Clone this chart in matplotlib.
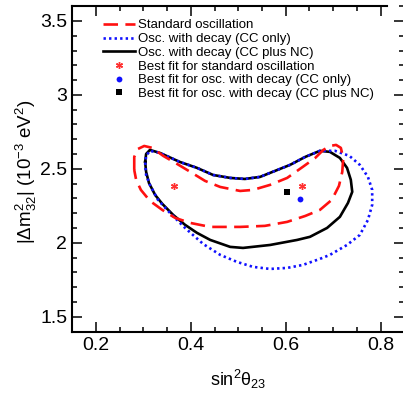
import numpy as np
import matplotlib
matplotlib.use("Agg")
from matplotlib import pyplot as plt
from matplotlib.lines import Line2D

plt.rcParams['font.family'] = ['Liberation Sans', 'DejaVu Sans']
plt.rcParams['mathtext.fontset'] = 'custom'
plt.rcParams['mathtext.rm'] = 'Liberation Sans'
plt.rcParams['mathtext.it'] = 'Liberation Sans:italic'
plt.rcParams['mathtext.default'] = 'regular'

# ---------- contours (sin^2 theta23, |dm^2_32| in 1e-3 eV^2) ----------
std_x = [0.281, 0.281, 0.289, 0.302, 0.319, 0.342, 0.371, 0.399, 0.430, 0.462, 0.504, 0.531,
         0.567, 0.603, 0.636, 0.662, 0.679, 0.693, 0.706, 0.716, 0.721, 0.719, 0.712, 0.697,
         0.672, 0.641, 0.603, 0.556, 0.504, 0.441, 0.399, 0.367, 0.340, 0.314, 0.295, 0.285]
std_y = [2.493, 2.581, 2.635, 2.655, 2.642, 2.588, 2.534, 2.480, 2.419, 2.378, 2.351, 2.358,
         2.392, 2.439, 2.514, 2.574, 2.628, 2.655, 2.662, 2.642, 2.574, 2.480, 2.385, 2.291,
         2.223, 2.182, 2.142, 2.115, 2.108, 2.108, 2.135, 2.169, 2.223, 2.284, 2.358, 2.426]

cc_x = [0.304, 0.306, 0.314, 0.335, 0.377, 0.413, 0.447, 0.483, 0.514, 0.546, 0.577, 0.609,
        0.641, 0.672, 0.704, 0.734, 0.756, 0.773, 0.782, 0.782, 0.773, 0.756, 0.729, 0.693,
        0.672, 0.636, 0.603, 0.567, 0.531, 0.497, 0.462, 0.426, 0.388, 0.356, 0.331, 0.314, 0.306]
cc_y = [2.527, 2.588, 2.622, 2.608, 2.547, 2.507, 2.459, 2.439, 2.432, 2.446, 2.486, 2.527,
        2.581, 2.622, 2.622, 2.588, 2.527, 2.446, 2.358, 2.257, 2.155, 2.054, 1.986, 1.919,
        1.892, 1.851, 1.831, 1.824, 1.838, 1.872, 1.919, 1.993, 2.101, 2.203, 2.291, 2.392, 2.459]

ccnc_x = [0.304, 0.306, 0.314, 0.335, 0.377, 0.413, 0.447, 0.483, 0.514, 0.546, 0.577, 0.609,
          0.641, 0.672, 0.693, 0.714, 0.729, 0.737, 0.740, 0.731, 0.714, 0.687, 0.651, 0.624,
          0.567, 0.510, 0.483, 0.441, 0.413, 0.388, 0.363, 0.340, 0.325, 0.312, 0.306]
ccnc_y = [2.547, 2.601, 2.628, 2.608, 2.547, 2.507, 2.459, 2.439, 2.432, 2.446, 2.486, 2.527,
          2.581, 2.622, 2.615, 2.574, 2.507, 2.426, 2.345, 2.270, 2.176, 2.101, 2.041, 2.020,
          1.986, 1.966, 1.973, 2.020, 2.068, 2.122, 2.189, 2.264, 2.324, 2.405, 2.480]

# best fit points
bf_std_x = [0.365, 0.634]
bf_std_y = [2.385, 2.385]
bf_cc_x = [0.630]
bf_cc_y = [2.297]
bf_ccnc_x = [0.603]
bf_ccnc_y = [2.345]

labels = ['Standard oscillation', 'Osc. with decay (CC only)', 'Osc. with decay (CC plus NC)',
          'Best fit for standard oscillation', 'Best fit for osc. with decay (CC only)',
          'Best fit for osc. with decay (CC plus NC)']


def closed(x, y):
    return list(x) + [x[0]], list(y) + [y[0]]


fig = plt.figure(figsize=(4.03, 3.99), dpi=100)
ax = fig.add_axes([0.1787, 0.1687, 0.825, 0.816])

lw = 1.9
x, y = closed(ccnc_x, ccnc_y)
ax.plot(x, y, color='black', lw=lw, solid_joinstyle='round')
x, y = closed(cc_x, cc_y)
ax.plot(x, y, color='#1010ff', lw=lw, linestyle=(0, (0.9, 1.2)), dash_capstyle='butt')
x, y = closed(std_x, std_y)
ax.plot(x, y, color='#ff1010', lw=lw, linestyle=(0, (5.5, 2.8)))

star = (6, 2, 0)
ax.plot(bf_std_x, bf_std_y, linestyle='none', marker=star, color='#ff3030', ms=5, mew=1.0)
ax.plot(bf_cc_x, bf_cc_y, linestyle='none', marker='o', color='#1010ff', ms=4.2, mew=0)
ax.plot(bf_ccnc_x, bf_ccnc_y, linestyle='none', marker='s', color='black', ms=4.2, mew=0)

handles = [
    Line2D([], [], color='#ff1010', lw=lw, linestyle=(0, (5.5, 2.8))),
    Line2D([], [], color='#1010ff', lw=lw, linestyle=(0, (0.9, 1.2))),
    Line2D([], [], color='black', lw=lw),
    Line2D([], [], linestyle='none', marker=star, color='#ff3030', ms=5, mew=1.0),
    Line2D([], [], linestyle='none', marker='o', color='#1010ff', ms=4.2, mew=0),
    Line2D([], [], linestyle='none', marker='s', color='black', ms=4.2, mew=0),
]
ax.legend(handles, labels, loc='upper left', bbox_to_anchor=(0.065, 0.988), frameon=False,
          fontsize=9.5, handlelength=2.4, handletextpad=0.25, labelspacing=0.11,
          borderaxespad=0.3)

ax.set_xlim(0.15, 0.85)
ax.set_ylim(1.4, 3.6)
ax.set_xticks([0.2, 0.4, 0.6, 0.8])
ax.set_xticklabels(['0.2', '0.4', '0.6', '0.8'])
ax.set_xticks(np.arange(0.15, 0.851, 0.05), minor=True)
ax.set_yticks([1.5, 2.0, 2.5, 3.0, 3.5])
ax.set_yticklabels(['1.5', '2', '2.5', '3', '3.5'])
ax.set_yticks(np.arange(1.4, 3.601, 0.1), minor=True)
ax.tick_params(which='both', direction='in', top=True, right=True, labelsize=14, width=1.1)
ax.tick_params(which='major', length=7.2, pad=3.5)
ax.tick_params(which='minor', length=3.6)

for s in ax.spines.values():
    s.set_linewidth(1.5)
ax.spines['right'].set_visible(False)
ax.spines['top'].set_bounds(0.15, 0.813)

ax.set_xlabel(r'sin$^{2}$$\theta_{23}$', fontsize=13)
ax.set_ylabel(r'|$\Delta$m$^{2}_{32}$| (10$^{-3}$ eV$^{2}$)', fontsize=13.5)
ax.xaxis.set_label_coords(0.5, -0.11)
ax.yaxis.set_label_coords(-0.10, 0.49)

fig.savefig('out.png', dpi=100)
